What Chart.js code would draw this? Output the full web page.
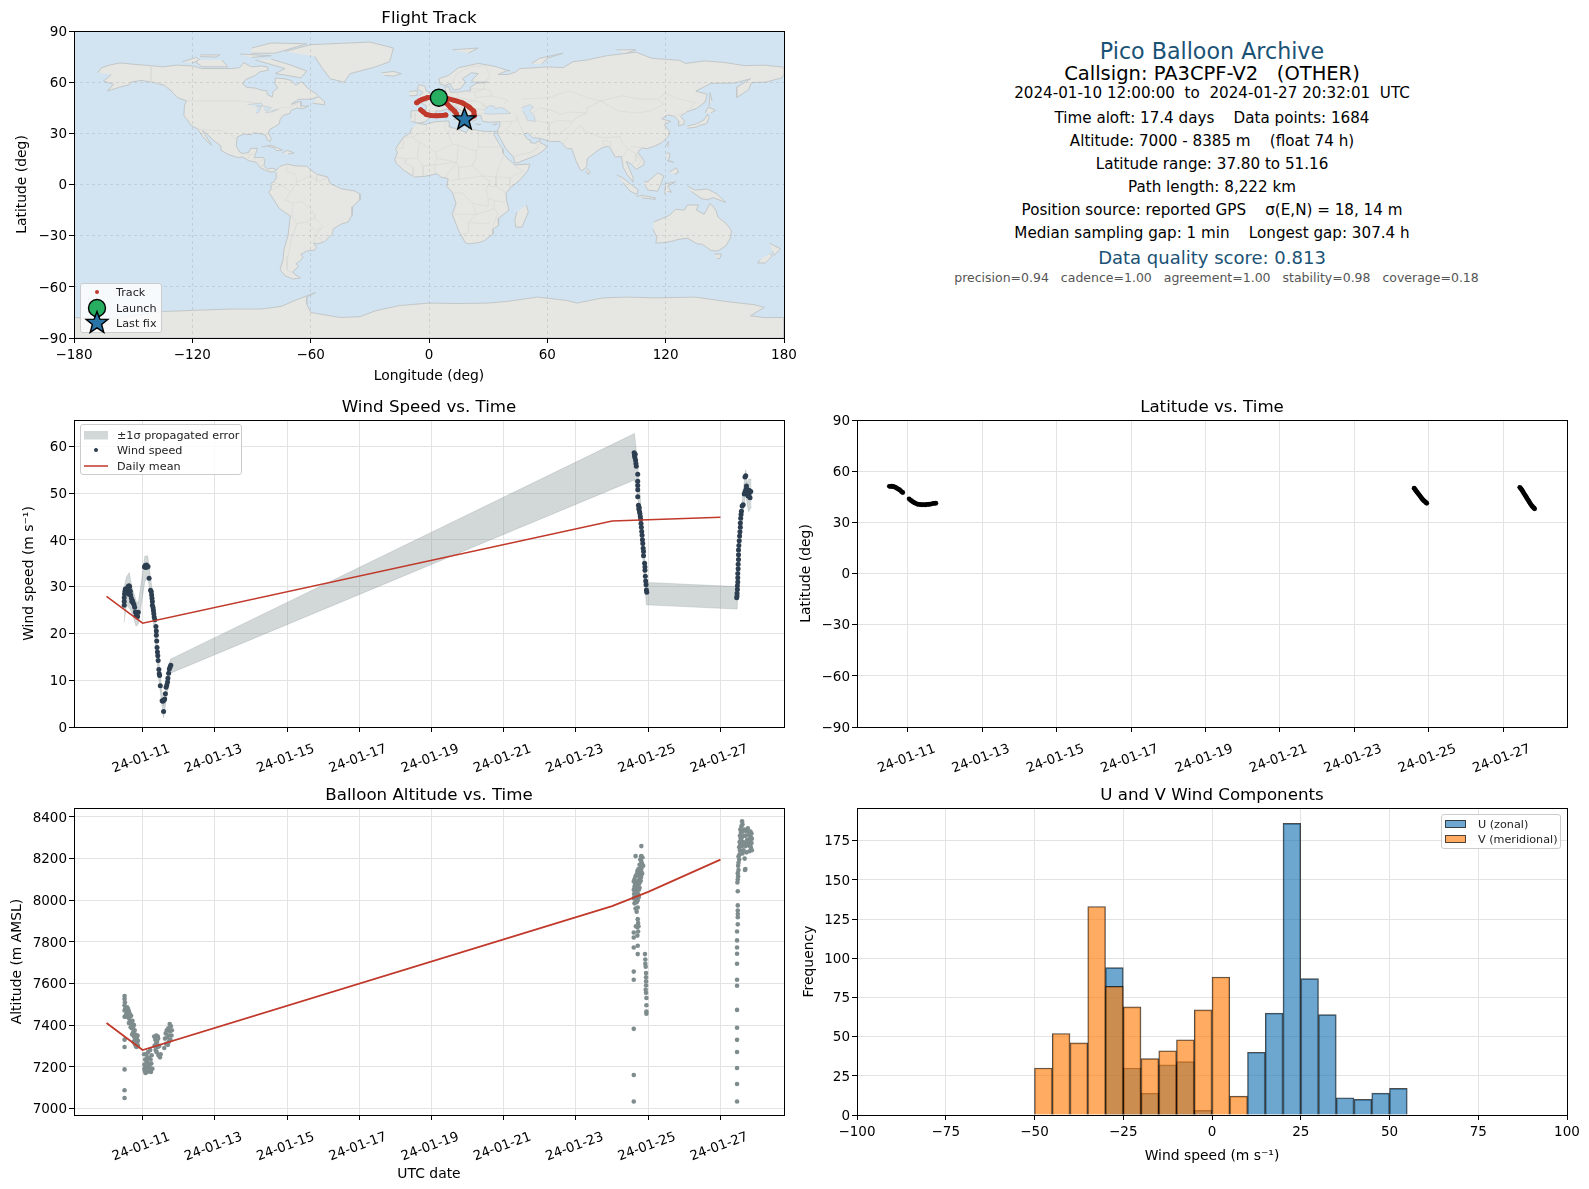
<!DOCTYPE html>
<html><head><meta charset="utf-8">
<script src="https://cdn.jsdelivr.net/npm/chart.js@4/dist/chart.umd.js"></script>
<style>
html,body{margin:0;padding:0;background:#fff;width:1589px;height:1189px;overflow:hidden;font-family:"DejaVu Sans",sans-serif;}
canvas{position:absolute;}
.t{position:absolute;left:857px;width:710px;text-align:center;white-space:pre;line-height:1;transform:translateY(-50%);color:#000;font-size:14px;}
.lg{position:absolute;background:rgba(255,255,255,.8);border:1px solid #ccc;border-radius:3px;box-sizing:border-box;font-size:11.2px;color:#222;}
.lg span{position:absolute;white-space:pre;transform:translateY(-50%);line-height:1;}
.lg svg{position:absolute;overflow:visible;}
</style></head><body>
<script>
// ---------- axis ticks ----------
const dateTicks=[11,13,15,17,19,21,23,25,27];
const lonTicks=[-180,-120,-60,0,60,120,180];
const latTicks=[-90,-60,-30,0,30,60,90];
const windTicks=[0,10,20,30,40,50,60];
const altTicks=[7000,7200,7400,7600,7800,8000,8200,8400];
const histXTicks=[-100,-75,-50,-25,0,25,50,75,100];
const histYTicks=[0,25,50,75,100,125,150,175];

// ---------- histogram ----------
const uCenters=[-27.5,-22.5,-17.5,-12.5,-7.5,-2.5,12.5,17.5,22.5,27.5,32.5,37.5,42.5,47.5,52.5];
const uCounts=[94,30,14,32,34,3,40,65,186,87,64,11,10,14,17];
const vCenters=[-47.5,-42.5,-37.5,-32.5,-27.5,-22.5,-17.5,-12.5,-7.5,-2.5,2.5,7.5];
const vCounts=[30,52,46,133,82,69,36,41,48,67,88,12];

// ---------- daily means (day of January 2024) ----------
const meanDays=[10,11,24,25,27];
const meanWind=[27.9,22.2,44.0,44.3,44.8];
const meanAlt=[7410,7280,7972,8040,8195];

// ---------- wind band: [day, low, high] ----------
const windBand=[[10.49,22.3,30],[10.55,26,32],[10.63,25.5,33],[10.7,24.5,30],[10.82,21.5,27],[10.88,22,26.5],[11,28,33],[11.06,31,36.5],[11.14,32,36.6],[11.2,29,33],[11.27,24,29],[11.33,20,25],[11.45,10,14],[11.58,2,4.5],[11.7,8,12],[11.77,11.5,14.5],[24.62,52.8,62.7],[24.7,50,57],[24.78,43,49],[24.85,36,42.5],[24.95,26.1,30.9],[27.46,25.2,30],[27.5,30,36],[27.55,38,44],[27.62,45,50],[27.7,50,55],[27.74,47.5,52],[27.78,46,53],[27.86,47,53]];

// ---------- wind speed points: [day, m/s] ----------
const windPts=[[10.49,26],[10.49,26.8],[10.49,27.6],[10.5,28.4],[10.51,29],[10.52,29.5],[10.54,28.7],[10.56,29.4],[10.58,29.7],[10.6,30],[10.62,30.2],[10.64,30],[10.64,29.2],[10.63,28.3],[10.66,29],[10.67,28.2],[10.69,27.5],[10.7,26.8],[10.72,27],[10.74,26.5],[10.76,26.2],[10.78,25.6],[10.8,24.6],[10.82,23.8],[10.84,24.2],[10.86,23.6],[10.88,24.5],
[11.05,34.2],[11.07,34.5],[11.09,34.1],[11.11,34.6],[11.13,34.2],[11.15,34.3],[11.18,31.8],[11.22,29.2],[11.24,28.9],[11.25,28.2],[11.26,27.5],[11.27,26.8],[11.27,26],[11.29,25.5],[11.3,24.9],[11.31,24.2],[11.32,23.5],[11.34,22.9],[11.37,21.5],[11.38,20.5],[11.38,19.6],[11.39,18.4],[11.4,17],[11.41,16],[11.42,15.2],[11.43,14.2],[11.45,12.3],[11.46,11.4],[11.47,11],[11.49,8.8],[11.54,5.6],[11.56,5.5],[11.58,3.3],[11.59,5.7],[11.61,6],[11.63,7.1],[11.65,8.5],[11.67,9],[11.69,9.6],[11.7,10.4],[11.72,11.5],[11.74,12.4],[11.76,12.8],[11.78,13.2],
[24.61,58.6],[24.62,58],[24.63,57.6],[24.64,58.3],[24.65,57],[24.66,56.3],[24.67,55.7],[24.71,54],[24.71,52.5],[24.71,51.6],[24.71,50.7],[24.71,49.2],[24.73,47.4],[24.74,46.6],[24.75,46.9],[24.76,46],[24.77,45.6],[24.78,45],[24.79,44.4],[24.8,43.5],[24.81,42.7],[24.82,41.8],[24.83,41],[24.84,40],[24.85,39.2],[24.86,38.2],[24.87,37.5],[24.87,36.6],[24.9,35],[24.91,34.2],[24.91,33.5],[24.92,32.2],[24.93,31.2],[24.94,30.4],[24.95,29.3],[24.96,28.8],
[27.45,27.6],[27.46,28],[27.46,28.6],[27.47,29.4],[27.47,30.2],[27.48,31],[27.48,31.9],[27.48,32.8],[27.49,33.8],[27.49,34.8],[27.5,35.8],[27.5,36.8],[27.5,37.8],[27.51,38.8],[27.52,39.8],[27.53,40.8],[27.54,41.7],[27.55,42.7],[27.55,43.6],[27.56,44.6],[27.57,45.4],[27.58,46.1],[27.6,47.2],[27.63,47.5],[27.66,49.8],[27.68,50.2],[27.7,50.6],[27.72,51.5],[27.74,50.2],[27.76,49.4],[27.78,50.6],[27.8,50],[27.82,49],[27.84,50.3],[27.7,53.7],[27.68,53.4],[27.72,50.9],[27.77,49.9],[27.79,49.3],[27.81,50.5]];

// ---------- altitude points: [day, m] ----------
const altPts=[[10.5,7540],[10.5,7525],[10.51,7510],[10.5,7495],[10.5,7470],[10.5,7440],[10.52,7480],[10.54,7450],[10.55,7470],[10.57,7485],[10.58,7460],[10.6,7440],[10.61,7470],[10.63,7460],[10.63,7430],[10.65,7450],[10.66,7420],[10.68,7445],[10.7,7410],[10.7,7385],[10.72,7420],[10.73,7390],[10.74,7365],[10.76,7400],[10.76,7345],[10.78,7375],[10.79,7330],[10.8,7355],[10.82,7320],[10.84,7340],[10.85,7310],[10.87,7325],[10.87,7300],[10.78,7310],[10.81,7300],[10.5,7330],[10.5,7295],[10.5,7187],[10.5,7087],[10.5,7050],[10.53,7440],[10.59,7480],[10.62,7410],[10.67,7390],[10.71,7355],[10.75,7320],[10.83,7295],[10.86,7350],
[11.04,7260],[11.05,7210],[11.05,7190],[11.06,7180],[11.07,7235],[11.08,7170],[11.09,7200],[11.1,7260],[11.11,7225],[11.12,7175],[11.13,7245],[11.14,7195],[11.15,7270],[11.16,7215],[11.17,7180],[11.18,7240],[11.19,7200],[11.21,7280],[11.22,7235],[11.23,7175],[11.24,7215],[11.25,7255],[11.27,7190],
[11.32,7345],[11.33,7300],[11.35,7330],[11.36,7280],[11.37,7310],[11.38,7350],[11.39,7270],[11.4,7320],[11.42,7295],[11.43,7335],[11.44,7255],[11.46,7300],[11.48,7245],[11.5,7260],[11.42,7345],
[11.6,7290],[11.62,7335],[11.64,7360],[11.65,7310],[11.67,7375],[11.68,7340],[11.7,7305],[11.71,7385],[11.72,7350],[11.73,7320],[11.75,7405],[11.76,7370],[11.77,7330],[11.78,7395],[11.8,7350],[11.81,7375],
[24.6,8010],[24.6,8050],[24.61,8030],[24.62,8065],[24.62,7985],[24.63,8010],[24.64,8045],[24.64,8075],[24.65,7960],[24.65,7995],[24.66,8030],[24.66,8060],[24.67,8080],[24.68,7945],[24.68,7990],[24.69,8015],[24.69,8050],[24.7,8085],[24.71,7965],[24.71,8000],[24.72,8030],[24.72,8070],[24.73,8095],[24.74,8015],[24.74,8050],[24.75,8080],[24.76,8110],[24.76,8060],[24.77,8130],[24.78,8090],[24.78,8120],[24.79,8140],[24.79,8095],[24.8,8165],[24.8,8110],[24.81,8150],[24.81,8185],[24.82,8125],[24.83,8175],[24.84,8205],[24.6,8090],[24.62,8100],[24.65,8115],[24.68,8125],[24.7,8140],[24.73,8150],[24.76,8170],[24.78,8195],[24.8,8210],[24.83,8130],[24.86,8165],
[24.81,8260],[24.65,8212],[24.81,8212],[24.71,7909],[24.72,7890],[24.7,7870],[24.73,7875],[24.66,7875],[24.6,7845],[24.6,7821],[24.72,7850],[24.7,7830],[24.6,7773],[24.71,7781],[24.71,7741],[24.6,7657],[24.6,7618],[24.6,7382],[24.6,7160],[24.6,7033],
[24.91,7741],[24.92,7715],[24.92,7695],[24.93,7680],[24.94,7650],[24.94,7630],[24.94,7610],[24.94,7590],[24.93,7570],[24.94,7555],[24.95,7530],[24.95,7495],[24.95,7465],[24.95,7455],
[27.46,7033],[27.46,7117],[27.46,7194],[27.46,7271],[27.46,7329],[27.46,7387],[27.46,7473],[27.46,7589],[27.46,7618],[27.46,7695],[27.46,7743],[27.46,7773],[27.46,7807],[27.46,7850],[27.48,7884],[27.48,7918],[27.48,7934],[27.48,7950],[27.48,7975],[27.48,8043],[27.47,8085],[27.48,8100],[27.49,8115],[27.48,8130],[27.5,8145],[27.49,8165],[27.5,8180],[27.52,8195],[27.5,8210],[27.53,8220],[27.54,8240],[27.52,8255],[27.55,8265],[27.53,8280],[27.56,8295],[27.54,8310],[27.57,8325],[27.55,8340],[27.58,8355],[27.6,8379],[27.61,8365],[27.59,8300],[27.6,8260],[27.62,8330],[27.61,8225],[27.63,8280],[27.65,8310],[27.64,8240],[27.66,8340],[27.67,8200],[27.68,8275],[27.69,8150],[27.7,8260],[27.7,8310],[27.72,8230],[27.74,8290],[27.76,8345],[27.77,8265],[27.79,8315],[27.8,8235],[27.81,8285],[27.83,8330],[27.84,8255],[27.85,8300],[27.86,8275],[27.87,8240],[27.68,8145],[27.73,8330],[27.75,8270],[27.78,8290],[27.82,8260],[27.83,8300],[27.86,8320],[27.87,8295]];

// ---------- latitude points: [day, deg] ----------
const latPts=[[10.5,51.1],[10.53,51.1],[10.56,51.15],[10.59,51],[10.62,50.9],[10.65,50.6],[10.68,50.3],[10.71,49.9],[10.74,49.5],[10.77,49.1],[10.8,48.6],[10.83,47.9],[10.86,47.5],[11.03,43.8],[11.06,43.2],[11.09,42.7],[11.12,42.2],[11.15,41.8],[11.18,41.4],[11.22,41],[11.26,40.6],[11.3,40.5],[11.34,40.4],[11.38,40.3],[11.42,40.4],[11.46,40.2],[11.5,40.5],[11.54,40.5],[11.58,40.6],[11.62,40.7],[11.66,41],[11.7,41.1],[11.75,41.2],
[24.61,50],[24.63,49.4],[24.65,48.8],[24.67,48.2],[24.69,47.7],[24.71,47.1],[24.73,46.5],[24.75,46],[24.77,45.4],[24.79,44.8],[24.81,44.2],[24.83,43.6],[24.85,43.2],[24.87,42.7],[24.89,42.3],[24.91,42],[24.93,41.5],[24.95,41.2],
[27.45,50.5],[27.47,50],[27.49,49.5],[27.51,48.8],[27.53,48.1],[27.55,47.4],[27.57,46.7],[27.59,46],[27.61,45.3],[27.63,44.6],[27.65,43.9],[27.67,43.2],[27.69,42.5],[27.71,41.8],[27.73,41.1],[27.75,40.4],[27.77,39.8],[27.79,39.3],[27.81,38.8],[27.83,38.4],[27.85,37.9]];

// ---------- map markers / track: [lon, lat], null = break ----------
const launchPos=[[5,50.9]];
const lastFixPos=[[18,38.1]];
const trackPts=[[5,51.1],[2,51.1],[-1,50.8],[-3.5,49.9],[-5,49],[-6.2,48],null,[-4.2,43.8],[-3,42.6],[-1.3,41],[1,40.5],[3.8,40.3],[6.3,40.4],[8.5,40.8],null,[7,49.8],[9,47.5],[11,45],[13,43],[14,41.2],null,[9,50.5],[13,49.3],[17,47.8],[20.5,45.3],[22.7,43],[23,40.3],[20,38.6],[18,37.8]];

// ---------- land outlines: [lon, lat] ----------
const landPolys=[
[[-168,65.5],[-166,68.5],[-162,70],[-156.5,71.3],[-150,70.5],[-141,69.7],[-135,69],[-128,70],[-120,69.5],[-115,68],[-108,68],[-100,68],[-96,68.5],[-94,71.5],[-90,69],[-85,69.5],[-82,69],[-81.5,67],[-86,66],[-88,64],[-93,61.5],[-94.5,59],[-92.5,57],[-88,56.5],[-85,55.3],[-82.3,55],[-82,52.8],[-79.5,51.3],[-79,54.5],[-76.7,56.5],[-78,59],[-78,62.4],[-73,62],[-70,61],[-67.5,58.3],[-64.5,60.3],[-61.5,56.5],[-57,53],[-56,51.5],[-60,50],[-66,50],[-70,47],[-65,48.8],[-65,46],[-61,46],[-64,44.5],[-67,44.8],[-70,43.5],[-70.5,41.7],[-74,40.5],[-75.5,38],[-76,35.5],[-78,34],[-81,32],[-81.3,30],[-80,26.8],[-80.5,25.2],[-81.8,26],[-83,29],[-85,29.7],[-89,30.3],[-90,29.2],[-94,29.6],[-97.3,27.8],[-97.7,22.5],[-96,19],[-94.5,18.2],[-91.5,18.7],[-90.5,21],[-87,21.4],[-88,17.5],[-88.7,15.8],[-84,15.8],[-83.2,14.8],[-83.7,11],[-82,9],[-79.5,9.6],[-77.3,8.6],[-78.2,7.5],[-80,7.3],[-83,8.3],[-85.7,10],[-87.5,13],[-91.5,14],[-94.5,16.2],[-97,15.8],[-101.5,17.5],[-105.5,20],[-105.5,22.5],[-109,25.6],[-112.5,29.5],[-114.8,31.7],[-113,28],[-110,23],[-112,24.7],[-115,28.5],[-117.2,32.5],[-120.5,34.5],[-122.5,37.8],[-124.3,40.3],[-124,46.2],[-123,49],[-127.5,51],[-130.5,54.5],[-134,58],[-140,60],[-146,61],[-151,60],[-152,58.5],[-157,57],[-163,54.8],[-160,58.7],[-165,60.7],[-161,64.5]],
[[-77.3,8.6],[-75.5,10.7],[-72,12],[-68,11],[-62,10.7],[-57,6],[-51.5,4.5],[-50,0.5],[-44.5,-2.5],[-38,-3.7],[-35,-5.5],[-35,-9],[-38.8,-13],[-39,-18],[-41,-22],[-44.5,-23.2],[-48.5,-26],[-49,-29],[-53,-33.5],[-56.5,-34.8],[-58.5,-34.2],[-57,-37],[-58,-38.5],[-62,-39],[-65,-41],[-63.8,-42.5],[-65.5,-45],[-67.5,-46.5],[-66,-48],[-69,-51],[-68.3,-52.5],[-65.2,-54.8],[-69,-55.4],[-73,-53.5],[-75.5,-50],[-74,-44],[-73.5,-38],[-71.5,-30],[-70.3,-18.5],[-76,-14],[-79.5,-7.5],[-81.3,-4.5],[-80,-2.5],[-80.2,0.5],[-78.7,1.7],[-77.3,4],[-77.5,7]],
[[-5.9,35.8],[-2,35.2],[3,36.8],[10,37.3],[10.5,34.5],[10.2,33.8],[15,32.4],[19,30.4],[20,32.8],[25,31.7],[29,31],[32.5,31.2],[34.2,31.2],[32.6,29.9],[35.5,24],[37.2,21],[37.5,18.5],[39.5,15.5],[43.2,12],[43.3,11.5],[51.2,12],[50,8],[46,2.5],[41.5,-1.7],[39,-5],[39.5,-10],[40.6,-15],[35,-20],[35.3,-24],[32.7,-26],[32.5,-29],[28,-33],[25.5,-34],[20,-34.8],[18.3,-34],[15,-27],[11.8,-17.5],[13.7,-11],[12,-5],[9,-1],[9.7,3.5],[6,4.3],[4,6.3],[-2,4.8],[-7.5,4.4],[-13,8.5],[-16.7,12.5],[-17.3,14.7],[-16,19],[-17,21],[-13,27.7],[-9.8,30],[-8.5,33.3]],
[[-9,37],[-5.5,36],[-2,36.7],[0,38.7],[0.5,40.5],[3.2,42],[3.5,43.3],[6,43],[9,44.3],[10.5,43],[12.5,41.3],[16,38],[15.7,40],[18.4,40],[16.9,41],[13.5,44],[12.3,45.3],[13.7,45.6],[15,44.3],[19.3,41.5],[19.4,40],[22,37],[24,38],[23,40.2],[26.3,40.5],[26.5,39],[27.3,37],[30.5,36.5],[36,36.8],[35.8,34],[34.5,31.5],[34.9,29.5],[39,21],[42.8,16],[43.5,12.8],[45,12.8],[52,16],[55,17.5],[58.7,20.5],[59.8,22.5],[56.5,24.5],[56.3,26.3],[54,24.2],[51.6,24.5],[51.5,26],[50,26.5],[48,29.5],[50,30.2],[52.5,27.5],[56.5,27],[61.5,25.2],[66.5,25.3],[68,23.5],[70,21],[72.5,21],[73,19],[74.5,14],[76.5,9],[77.5,8],[80,10.5],[80.2,15],[85,19.5],[88,21.7],[91,22.5],[92.3,20.5],[94.5,16],[97.5,16.5],[98.5,10],[100.3,6],[103.5,1.4],[103.5,4],[100,13.5],[102.5,12],[105,8.8],[109,11.5],[109,14],[105.8,19],[108,21.5],[110.5,21],[114,22.3],[118,24.5],[121.5,28.5],[122,31],[119.3,35],[122.5,37],[118,38.5],[121,40.8],[124.4,40],[126.7,37],[126.5,34.5],[129.2,35.2],[129.5,37.5],[127.5,39.8],[130.5,42.5],[135.5,44.5],[140,48.3],[141,53],[137.5,54],[135.3,54.8],[143,59.3],[155,59.5],[163,62],[156,57],[156,51],[162,55.5],[163.5,59.8],[170.5,60],[179,62.5],[180,65],[180,68.8],[170,70],[160,69.7],[150,71.5],[140,72.5],[130,71],[127,72.8],[113,74],[105,77.6],[90,75.5],[80,73],[73,72],[68,68.5],[60,69],[54,68.5],[46,68],[44,66],[40,64.5],[35,64.5],[40,67],[41,66.5],[33,69.4],[25,71],[15,68.5],[10,64],[5,62],[5.5,59],[8,58],[10.7,59.3],[12,56],[13,55.4],[16,56.2],[18.5,60],[17,62],[21.5,65.5],[25,65],[21.5,61],[23,60],[30,60],[24,59.3],[21,57],[21,55],[18,54.7],[14,54],[11,54],[10,57.5],[8,57],[8.7,54],[5,53],[3.5,51.3],[1.5,50.8],[-1.5,49.5],[-1.5,48.6],[-4.7,48.4],[-1.2,46],[-1.7,43.4],[-9,43.2],[-9.2,38.8]],
[[-5.5,50],[1.5,51.2],[1.7,52.7],[-1.5,55],[-2,57.6],[-5,58.6],[-6,56],[-3,54],[-5,52]],
[[-10,52],[-6,52.2],[-6,55],[-10,54.5]],
[[-24,65.5],[-18,66.3],[-14,65],[-18,63.5],[-22.5,64]],
[[-73,78],[-60,82],[-30,83.5],[-18,80],[-20,72],[-27,69],[-40,65],[-43,60],[-50,62],[-54,68],[-58,75]],
[[-80,73.5],[-70,70],[-62,66.5],[-65,62.5],[-72,64],[-78,65],[-73,68],[-88,73]],
[[-105,73],[-102,69],[-115,69],[-118,71.5],[-117,73]],
[[-90,77],[-78,77],[-62,82.5],[-80,83],[-90,80]],
[[-125,72],[-118,74.5],[-116,73],[-120,71.3]],
[[-96,76.5],[-80,75.5],[-90,74.5]],
[[-116,76],[-106,76],[-108,74.7],[-116,75]],
[[-59,47.7],[-53,46.7],[-53,48.7],[-56,51.5]],
[[-85,22],[-80,23],[-74.2,20.2],[-77.5,19.9],[-78.5,21.5],[-82,22.6]],
[[-74.4,18.5],[-72,20],[-68.4,18.6],[-71.5,17.8]],
[[49.3,-12],[50.4,-16],[47.2,-25],[44,-25],[43.5,-21],[44.5,-16.2]],
[[80,9.7],[81.8,7],[80.5,6],[79.8,8]],
[[95.3,5.6],[98,4],[103.5,-1],[106,-3],[105.5,-5.8],[102,-4],[98.5,1]],
[[105.2,-6.8],[108.5,-6.5],[114.5,-7.7],[114.5,-8.7],[108,-7.8]],
[[109,1.5],[111,1.7],[116,6.8],[119,5],[117.8,1],[116,-3.9],[111,-3.3],[109.5,-0.5]],
[[119.5,-5.5],[120,0.5],[125,1.5],[121,-1],[123,-4.5],[121,-4]],
[[131,-1],[135,-3.3],[141,-2.6],[146,-5.5],[150.5,-10.5],[144,-7.7],[141,-9],[138,-8.2],[133,-4]],
[[120.5,18.5],[122.2,18.3],[121.5,14],[124,13],[120.7,14]],
[[122,7.5],[125.5,9.8],[126.5,7],[124.5,6]],
[[120.2,23],[121.5,25.2],[121,22]],
[[131,34.3],[135.5,35.5],[139.5,38],[141.3,41.3],[142,39.5],[140.8,35.7],[137,34.6],[135.5,33.6],[131,33]],
[[140,42],[141.7,45.4],[145.3,43.5],[143,42]],
[[142,46],[142.5,54],[143.5,49]],
[[114,-22],[122,-18],[125,-14.5],[129.5,-15],[131,-12],[136.7,-12],[135.6,-15],[139.5,-17.5],[142.5,-11],[145.5,-15],[146.5,-19],[150.8,-23],[153.3,-27],[153,-31],[150.5,-36],[146.5,-39],[143,-38.7],[138.5,-35],[136,-34.8],[131,-31.5],[126,-32.3],[124,-33],[120,-34],[115,-34.3],[115.5,-31],[113.5,-26]],
[[144.7,-40.8],[148.3,-40.8],[147.5,-43.3],[146,-43.5]],
[[172.8,-34.5],[178.3,-37.7],[175,-41.5],[174,-39]],
[[172.7,-40.6],[174.2,-41.8],[170.5,-46],[166.5,-46],[168,-44]],
[[12,79],[25,80],[20,77]],
[[52,71],[56,74],[68,77],[60,74],[57,70.5]],
[[95,79],[105,79],[100,77]],
[[8.2,41],[9.7,41],[9.5,39],[8.4,39]],
[[12.5,38],[15.5,38.2],[15,36.7]],
[[23.5,35.5],[26.3,35.2],[24.5,34.9]],
[[32.3,35],[34.5,35.6],[33.5,34.6]],
[[-180,-78],[-160,-79],[-150,-77],[-135,-74.5],[-120,-73.8],[-100,-73],[-85,-73],[-75,-71.5],[-68,-68],[-57.5,-63.3],[-62,-66],[-62,-70],[-60,-75],[-45,-78],[-35,-77.5],[-27,-74],[-15,-71],[0,-69.5],[15,-69.8],[30,-69.5],[40,-68.5],[55,-66],[70,-68],[75,-69.5],[88,-66.5],[100,-66],[115,-66.5],[135,-66],[150,-68.5],[165,-70.5],[170,-72],[163,-77],[170,-78],[180,-78],[180,-90],[-180,-90]]
];
const waterPolys=[
[[28,41.7],[31.5,41.2],[36,41.5],[41.5,41.7],[38,44.5],[36.6,45.3],[35,44.8],[33.5,44.5],[33,46],[30.6,46.3],[28,43.4]],
[[47,45],[51,46.8],[53,45.5],[51,43],[53,41],[54,37],[50,37.5],[49,40.5],[47.5,43]],
[[-92,46.8],[-85,47.8],[-84.5,46],[-88,46]],
[[-87.8,42],[-86.5,42],[-85,46],[-87,45.5]],
[[-84,46],[-80,45],[-82,43],[-83.5,44]],
[[-83,42],[-79,42.8],[-76.5,44],[-79.5,43.5]]
];
const borderLines=[
[[-123,49],[-95,49],[-89,48],[-84,46.5],[-82.5,43],[-79,43],[-75,45],[-71,45],[-67.5,47],[-67,45]],
[[-141,69.7],[-141,60.3],[-135,59],[-130,55]],
[[-117,32.5],[-108,31.5],[-106.5,31.8],[-101,29.7],[-97.5,26]],
[[-92,14.5],[-91,17.5],[-89,17.8],[-88.3,18.5]],[[-89,14],[-88,15.8]],[[-87,13],[-83.2,15]],[[-85.7,11],[-83.7,11]],[[-83,8.3],[-82.5,9.5]],
[[-72,12],[-72.5,8],[-67.5,6],[-67,1.5]],[[-67,1.5],[-70,-4.2],[-75,-0.5],[-78.7,1.4]],[[-80.3,-3.4],[-75,-0.5]],[[-67,1.5],[-60,5],[-60.7,8.5]],[[-60,5],[-57,2],[-54.5,2.3],[-51.7,4]],[[-57,6],[-57,2]],
[[-70,-4.2],[-73,-9],[-69,-11],[-65,-10],[-60,-14],[-58,-18],[-58,-20],[-62,-22],[-67,-23],[-69.5,-18],[-69,-11]],
[[-67,-23],[-70,-33],[-71.5,-42],[-72,-50],[-69,-52]],[[-62,-22],[-58,-27],[-54.5,-25.5],[-54,-24],[-58,-20]],[[-54.5,-25.5],[-57.5,-30],[-53.5,-33.5]],[[-58.5,-34],[-57.5,-30]],
[[-1.5,35],[-1,32],[-8.7,27.7],[-13,27.7]],[[-8.7,27.7],[-4.8,25],[3.3,19],[12,23.5],[9.5,30],[8,33],[8.5,37]],[[11.5,33],[9.5,30]],[[12,23.5],[15,23],[24,19.5],[25,22],[25,31.7]],[[25,22],[36.8,22]],
[[3.3,19],[4,15.5],[14,13],[15,23]],[[14,13],[15,10],[22,11],[24,15.5],[24,19.5]],[[24,15.5],[22,11],[27,5],[34,4.5],[36,12.5],[38.5,18]],
[[-17,21],[-13,21.3],[-13,27.7]],[[-4.8,25],[-6,15.5],[-12,15],[-16.5,16]],[[-12,15],[-12,12.5],[-8,10],[-8,4.5]],[[-6,15.5],[-3,11],[3,11.5],[4,15.5]],[[-3,11],[-3,5]],[[2.7,6.3],[3,11.5]],[[3,11.5],[14,13]],[[14,13],[8.5,4.7]],
[[15,10],[15,3],[9.8,2.2]],[[15,3],[18,3.5],[27,5]],[[12,-5],[17,-5],[22,-11],[30,-13],[30,-8],[29,-3],[31,2],[27,5]],[[12,-17.3],[24,-17.5],[22,-11]],[[17,-29],[20,-28.5],[20,-22],[24,-18]],[[24,-17.5],[30,-15.5],[33,-14],[33,-9.5],[30,-8]],[[39.5,-10.5],[33,-9.5]],[[30,-1],[34,-1],[39,-4.7]],[[34,4.5],[41,4],[48,8],[43,11]],[[34,4.5],[34,-1]],[[41,4],[41,-1.7]],[[33,-14],[35,-17],[33,-22],[32,-26]],[[20,-22],[27,-23],[31,-22.3]],
[[-1.7,43.4],[3,42.5]],[[2.5,51],[8,49],[7.5,47.5],[7,44]],[[6,51],[7,53.5]],[[9,55],[14,54],[15,51],[13,48.5],[7.5,47.5]],[[14,54],[19,54.4],[23,54],[24,51],[22.5,49],[15,51]],[[7,46],[10.5,47],[13.7,46.5]],[[13.7,46.5],[16.5,48],[22.5,49],[26.5,48.2],[29.5,45.3]],[[22,48],[20,46],[22.5,44.5],[28,43.8]],[[20,46],[16,45.5],[19.3,42]],[[22.5,44.5],[21,42],[26,41.5],[28,42]],[[24,51],[32,52],[40,49.5],[38,47]],[[30,45.5],[28,45.5],[26.5,48.2]],[[21,56],[28,56],[28,59.5]],[[23,54],[28,56],[31,55],[32,52]],[[21,69],[29,69.7],[31,62.5],[28,60.5]],[[21,69],[14,65],[12,60],[11,59]],[[-7,42],[-7,37]],
[[47,50],[61,51],[71,55],[80,51],[87,49]],[[87,49],[98,52],[107,50],[116,50],[119,47],[112,43],[105,42],[96,43],[87,49]],[[116,50],[120,53.5],[127,50],[135,48],[131,43]],[[131,42.5],[124.4,40]],[[53,42],[56,45],[61,44],[67,41],[71,42.5],[80,42]],[[80,42],[80,45],[87,49]],[[54,37.5],[61,36],[66,37.5],[73,37],[75,39.5],[80,42]],[[61,36],[61,30],[66,29.5],[71,34],[73,37]],[[61,30],[61.5,25]],[[44.5,39.7],[46,35],[48,30]],[[36,36.8],[42,37],[44.5,37.2],[44.5,39.7],[43,41.5]],[[48,29.5],[44,29],[39,32],[35,29.5]],[[42,37],[41,34.5],[39,32]],[[43,16.5],[52,19],[56,22]],[[52,19],[55,22],[56,25]],[[68,23.5],[70.5,28],[74.5,32],[77,35]],[[77,35],[79,31],[88,27.5],[97,28]],[[88,26],[89,22]],[[88,26],[92,25],[92.3,21]],[[97,28],[98,24],[101,21],[98,16]],[[101,21],[105,18],[105,14],[102.5,12]],[[102,22.5],[108,21.5]],[[105,18],[107.5,14],[106,11]]
];

// ---------- look and layout ----------
const FONT='"DejaVu Sans"';
Chart.defaults.font.family=FONT;
Chart.defaults.font.size=13.5;
Chart.defaults.color='#000';
Chart.defaults.animation=false;
const RED='#c0392b', NAVY='#2c3e50', SLATE='#7f8c8d', GRID='#e3e3e3';
const minus=s=>String(s).replace('-','\u2212');
const dateLabel=v=>'24-01-'+String(v).padStart(2,'0');
const toXY=a=>a.map(p=>p?{x:p[0],y:p[1]}:{x:null,y:null});

const frame={id:'frame',
 beforeDraw(c,a,o){ if(o.bg){const r=c.chartArea;c.ctx.save();c.ctx.fillStyle=o.bg;c.ctx.fillRect(r.left,r.top,r.width,r.height);c.ctx.restore();}},
 afterDraw(c){const r=c.chartArea,x=c.ctx;x.save();x.strokeStyle='#000';x.lineWidth=1;x.strokeRect(Math.round(r.left)+.5,Math.round(r.top)+.5,Math.round(r.width),Math.round(r.height));x.restore();}
};

function panel(p){
 const top=30, right=40, left=Math.round(p.L-(p.titleX-8.5)), cLeft=p.L-left, cTop=p.T-top;
 const bottom=p.xBottom;
 const W=p.R-p.L+left+right, H=p.B-p.T+top+bottom;
 const cv=document.createElement('canvas');
 cv.width=W;cv.height=H;cv.style.left=cLeft+'px';cv.style.top=cTop+'px';cv.style.width=W+'px';cv.style.height=H+'px';
 document.body.appendChild(cv);
 const xticks=p.xTicks, yticks=p.yTicks;
 return new Chart(cv,{type:p.type||'line',data:{datasets:p.datasets},plugins:[frame],options:{
  responsive:false,devicePixelRatio:1,parsing:{xAxisKey:'x',yAxisKey:'y'},animation:false,
  layout:{padding:{left:0,top:0,right:right,bottom:0}},
  elements:{line:{tension:0}},
  plugins:{legend:{display:false},tooltip:{enabled:false},
   title:{display:true,text:p.title,color:'#000',fullSize:false,font:{size:16.67,weight:'normal',family:FONT,lineHeight:1.2},padding:{top:8,bottom:2}},
   frame:{bg:p.bg}},
  scales:{
   x:{type:'linear',min:p.xMin,max:p.xMax,offset:false,
     afterBuildTicks:s=>{s.ticks=xticks.map(v=>({value:v}));},
     afterFit:s=>{s.height=bottom;},
     grid:{color:p.gridColor||GRID,lineWidth:1,drawTicks:true,tickColor:'#000',tickLength:5,tickWidth:1,offset:false,z:p.gridZ||-1,tickBorderDash:[0,0]},
     border:{display:false,dash:p.dash||[]},
     ticks:{callback:p.xFmt,autoSkip:false,maxRotation:p.rot||0,minRotation:p.rot||0,padding:p.rot?p.rotPad:4,labelOffset:p.rot?p.rotOffset:0,color:'#000',font:{size:p.rot?13.3:13.5}},
     title:{display:!!p.xTitle,text:p.xTitle||'',color:'#000',font:{size:13.9},padding:{top:0,bottom:0}}},
   y:{type:'linear',min:p.yMin,max:p.yMax,
     afterBuildTicks:s=>{s.ticks=yticks.map(v=>({value:v}));},
     afterFit:s=>{s.width=left;},
     grid:{color:p.gridColor||GRID,lineWidth:1,tickColor:'#000',tickLength:5,tickWidth:1,z:p.gridZ||-1,tickBorderDash:[0,0]},
     border:{display:false,dash:p.dash||[]},
     ticks:{callback:v=>minus(v),autoSkip:false,padding:2,labelOffset:1.3,color:'#000',font:{size:13.5}},
     title:{display:true,text:p.yTitle,color:'#000',font:{size:13.9},padding:{top:0,bottom:0}}}
  }}});
}
const polyDS=(pts,fillC,edge,w,order)=>({type:'line',data:toXY(pts),fill:'shape',backgroundColor:fillC,borderColor:edge,borderWidth:w,pointRadius:0,order,clip:0});
function starCanvas(R,fillC){
 const s=Math.ceil(R*2+4),c=document.createElement('canvas');c.width=c.height=s;const x=c.getContext('2d');
 x.beginPath();for(let i=0;i<10;i++){const r=i%2?R*.42:R,a=-Math.PI/2+i*Math.PI/5;x[i?'lineTo':'moveTo'](s/2+r*Math.cos(a),s/2+r*Math.sin(a));}x.closePath();
 x.fillStyle=fillC;x.fill();x.strokeStyle='#000';x.lineWidth=1.4;x.lineJoin='miter';x.stroke();return c;
}

// ---------- Map ----------
const mapDS=[
 {type:'line',label:'Last fix',data:toXY(lastFixPos),showLine:false,pointStyle:starCanvas(11.5,'#2874a6'),order:0},
 {type:'line',label:'Launch',data:toXY(launchPos),showLine:false,pointStyle:'circle',pointRadius:8.5,pointBackgroundColor:'#27ae60',pointBorderColor:'#000',pointBorderWidth:1.4,order:1},
 {type:'line',label:'Track',data:toXY(trackPts),spanGaps:false,borderColor:RED,borderWidth:5,borderCapStyle:'round',borderJoinStyle:'round',pointRadius:2.5,pointBackgroundColor:RED,pointBorderWidth:0,fill:false,order:2}
];
waterPolys.forEach(w=>mapDS.push(polyDS(w,'#d2e4f1','#c6cdd0',.8,3)));
borderLines.forEach(b=>mapDS.push({type:'line',data:toXY(b),borderColor:'#dbdbd7',borderWidth:.8,pointRadius:0,fill:false,order:4}));
landPolys.forEach(l=>mapDS.push(polyDS(l,'#e6e6e3','#c2c7c8',1,5)));
panel({L:74,T:31,R:784,B:338,titleX:23,xBottom:47,xMin:-180,xMax:180,yMin:-90,yMax:90,xTicks:lonTicks,yTicks:latTicks,xFmt:v=>minus(v),
 title:'Flight Track',xTitle:'Longitude (deg)',yTitle:'Latitude (deg)',bg:'#d2e4f1',gridColor:'rgba(120,120,120,.2)',gridZ:1,dash:[3,3],datasets:mapDS});

// ---------- Wind ----------
panel({L:74,T:420,R:784,B:727,titleX:30,xBottom:60,xMin:9.1,xMax:28.76,yMin:0,yMax:65.6,xTicks:dateTicks,yTicks:windTicks,xFmt:dateLabel,rot:20,rotPad:9,rotOffset:27,
 title:'Wind Speed vs. Time',yTitle:'Wind speed (m s\u207B\u00B9)',datasets:[
 {label:'Daily mean',data:meanDays.map((d,i)=>({x:d,y:meanWind[i]})),borderColor:RED,borderWidth:1.5,pointRadius:0,fill:false,order:0},
 {label:'Wind speed',data:toXY(windPts),showLine:false,pointRadius:2.5,pointBorderWidth:0,pointBackgroundColor:NAVY,order:1},
 {label:'\u00B11\u03C3 propagated error',data:windBand.map(b=>({x:b[0],y:b[2]})),borderColor:'rgba(127,140,141,.3)',borderWidth:.8,pointRadius:0,fill:'+1',backgroundColor:'rgba(127,140,141,.35)',order:2},
 {data:windBand.map(b=>({x:b[0],y:b[1]})),borderColor:'rgba(127,140,141,.3)',borderWidth:.8,pointRadius:0,fill:false,order:3}
 ]});

// ---------- Latitude ----------
panel({L:857,T:420,R:1567,B:727,titleX:806.5,xBottom:60,xMin:9.63,xMax:28.72,yMin:-90,yMax:90,xTicks:dateTicks,yTicks:latTicks,xFmt:dateLabel,rot:20,rotPad:9,rotOffset:27,
 title:'Latitude vs. Time',yTitle:'Latitude (deg)',datasets:[
 {data:toXY(latPts),showLine:false,pointRadius:2.4,pointBorderWidth:0,pointBackgroundColor:'#000'}
 ]});

// ---------- Altitude ----------
panel({L:74,T:808,R:784,B:1115,titleX:18,xBottom:68,xMin:9.1,xMax:28.76,yMin:6968,yMax:8443,xTicks:dateTicks,yTicks:altTicks,xFmt:dateLabel,rot:20,rotPad:9,rotOffset:27,
 title:'Balloon Altitude vs. Time',xTitle:'UTC date',yTitle:'Altitude (m AMSL)',datasets:[
 {data:meanDays.map((d,i)=>({x:d,y:meanAlt[i]})),borderColor:RED,borderWidth:1.8,pointRadius:0,fill:false,order:0},
 {data:toXY(altPts),showLine:false,pointRadius:2.3,pointBorderWidth:0,pointBackgroundColor:SLATE,order:1}
 ]});

// ---------- Histogram ----------
panel({L:857,T:808,R:1567,B:1115,titleX:810,xBottom:50,xMin:-100,xMax:100,yMin:0,yMax:195.8,xTicks:histXTicks,yTicks:histYTicks,xFmt:v=>minus(v),type:'bar',
 title:'U and V Wind Components',xTitle:'Wind speed (m s\u207B\u00B9)',yTitle:'Frequency',datasets:[
 {label:'U (zonal)',data:uCenters.map((c,i)=>({x:c,y:uCounts[i]})),backgroundColor:'rgba(31,119,180,.65)',borderColor:'rgba(0,0,0,.7)',borderWidth:1,grouped:false,barPercentage:1,categoryPercentage:1,order:2},
 {label:'V (meridional)',data:vCenters.map((c,i)=>({x:c,y:vCounts[i]})),backgroundColor:'rgba(255,127,14,.65)',borderColor:'rgba(0,0,0,.7)',borderWidth:1,grouped:false,barPercentage:1,categoryPercentage:1,order:1}
 ]});

// ---------- Text panel ----------
const infoLines=[
 [50.7,22.2,'#1a5276','Pico Balloon Archive',0],
 [73.5,19.5,'#000','Callsign: PA3CPF-V2   (OTHER)',0],
 [94,15.15,'#000','2024-01-10 12:00:00  to  2024-01-27 20:32:01  UTC',0],
 [118.5,15.15,'#000','Time aloft: 17.4 days    Data points: 1684',0],
 [141.5,15.15,'#000','Altitude: 7000 - 8385 m    (float 74 h)',0],
 [164.5,15.15,'#000','Latitude range: 37.80 to 51.16',0],
 [187.5,15.15,'#000','Path length: 8,222 km',0],
 [210.5,15.15,'#000','Position source: reported GPS    \u03C3(E,N) = 18, 14 m',0],
 [233.5,15.15,'#000','Median sampling gap: 1 min    Longest gap: 307.4 h',0],
 [257.5,18,'#1a5276','Data quality score: 0.813',0],
 [278,12.5,'#555','precision=0.94   cadence=1.00   agreement=1.00   stability=0.98   coverage=0.18',4.5]
];
infoLines.forEach(l=>{const d=document.createElement('div');d.className='t';d.style.top=l[0]+'px';d.style.left=(857+l[4])+'px';d.style.fontSize=l[1]+'px';d.style.color=l[2];d.textContent=l[3];document.body.appendChild(d);});

// ---------- Legends ----------
function legend(x,y,w,h,rows){
 const b=document.createElement('div');b.className='lg';b.style.cssText=`left:${x}px;top:${y}px;width:${w}px;height:${h}px`;
 rows.forEach(r=>{b.insertAdjacentHTML('beforeend',`<svg width="1" height="1" style="left:0;top:${r.y-y-1}px">${r.svg}</svg><span style="left:${r.tx-x-1}px;top:${r.y-y}px">${r.text}</span>`);});
 document.body.appendChild(b);
}
const starPath=(cx,cy,R)=>{let s='';for(let i=0;i<10;i++){const r=i%2?R*.42:R,a=-Math.PI/2+i*Math.PI/5;s+=(i?'L':'M')+(cx+r*Math.cos(a)).toFixed(1)+' '+(cy+r*Math.sin(a)).toFixed(1);}return s+'Z';};
legend(80,283,82,50,[
 {y:292,tx:116,text:'Track',svg:`<circle cx="16" cy="0" r="2" fill="${RED}"/>`},
 {y:308,tx:116,text:'Launch',svg:`<circle cx="16" cy="0" r="8.5" fill="#27ae60" stroke="#000" stroke-width="1.4"/>`},
 {y:323,tx:116,text:'Last fix',svg:`<path d="${starPath(16,0,11.5)}" fill="#2874a6" stroke="#000" stroke-width="1.4"/>`}
]);
legend(80,424,162,51,[
 {y:435,tx:117,text:'\u00B11\u03C3 propagated error',svg:`<rect x="3" y="-4" width="24" height="8.5" fill="rgba(127,140,141,.35)"/>`},
 {y:450,tx:117,text:'Wind speed',svg:`<circle cx="15" cy="0" r="2" fill="${NAVY}"/>`},
 {y:466,tx:117,text:'Daily mean',svg:`<line x1="3" x2="27" y1="0" y2="0" stroke="${RED}" stroke-width="1.5"/>`}
]);
legend(1441,814,120,35,[
 {y:824,tx:1478,text:'U (zonal)',svg:`<rect x="3.5" y="-3.5" width="20" height="7" fill="rgba(31,119,180,.65)" stroke="rgba(0,0,0,.7)"/>`},
 {y:839,tx:1478,text:'V (meridional)',svg:`<rect x="3.5" y="-3.5" width="20" height="7" fill="rgba(255,127,14,.65)" stroke="rgba(0,0,0,.7)"/>`}
]);
</script>
</body></html>
